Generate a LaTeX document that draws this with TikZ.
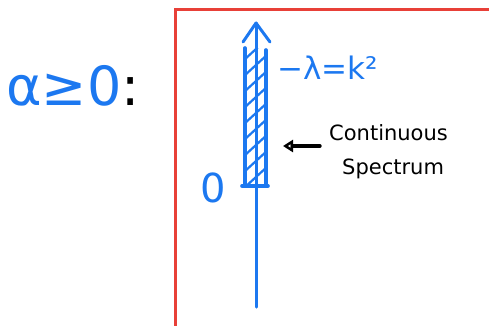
\documentclass[tikz,border=0pt]{standalone}
\usepackage{fontspec}
\setmainfont{DejaVu Sans}
\usetikzlibrary{arrows.meta}
\definecolor{pen}{RGB}{28,120,240}
\definecolor{frame}{RGB}{232,64,56}
\tikzset{
  blueline/.style={draw=pen, line width=3.6pt, line cap=round, line join=round},
  axisline/.style={draw=pen, line width=3pt, line cap=round, line join=round},
  hatch/.style={draw=pen, line width=2.2pt, line cap=round},
  lbl/.style={inner sep=0pt, text=pen},
}
\begin{document}
\begin{tikzpicture}[x=1pt,y=-1pt]
\useasboundingbox (0,0) rectangle (489,325);
% red frame
\draw[frame, line width=3pt] (175,340) -- (175,9) -- (500,9);
% axis
\coordinate (top) at (256,23);
\coordinate (bot) at (256,307);
\draw[axisline] (bot) -- (top);
\draw[axisline] (243,42) -- (top) -- (270,42);
% hatched band
\draw[blueline] (245,48) -- (245,186);
\draw[blueline] (266,50) -- (266,186);
\draw[blueline] (242,186) -- (268,186);
\begin{scope}
  \clip (245,48) rectangle (266,186);
  \foreach \y in {60,76,92,108,124,140,156,172,188,204} {
    \draw[hatch] (244,\y) -- (268,\y-22);
  }
\end{scope}
% labels
\node[lbl, font=\fontsize{40}{40}\selectfont] (zero) at (213,188) {0};
\node[lbl, font=\fontsize{31}{31}\selectfont, anchor=west] (lam) at (277,68) {−λ=k²};
\node[lbl, font=\fontsize{54}{54}\selectfont, anchor=west] (cond) at (6,86) {α≥0\textcolor{black}{:}};
\node[inner sep=0pt, align=left, anchor=west, font=\fontsize{21}{34}\selectfont] (cs) at (329,152) {Continuous\\\hspace*{13pt}Spectrum};
\coordinate (tip) at (283,146);
\draw[line width=3.4pt, line cap=round, -{Triangle[open, length=10pt, width=12pt]}] (320,146) -- (tip);
\end{tikzpicture}
\end{document}
